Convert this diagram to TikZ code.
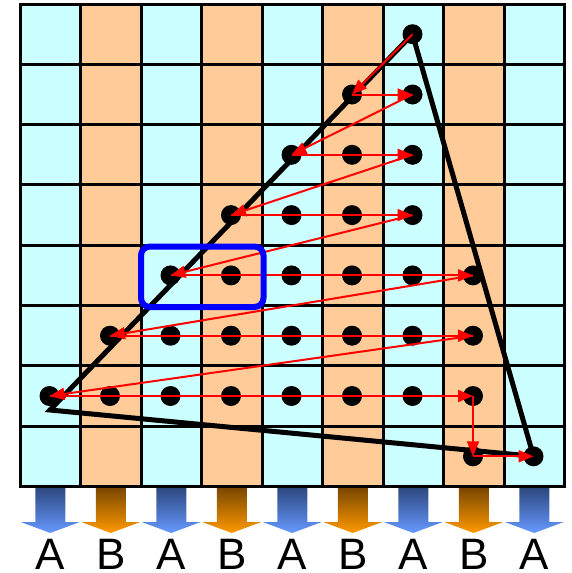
\documentclass[tikz,border=0pt]{standalone}
\usepackage{fontspec}
\setmainfont{Liberation Sans}
\usetikzlibrary{arrows.meta}
\definecolor{cellA}{HTML}{CCFFFF}
\definecolor{cellB}{HTML}{FFCC99}
\definecolor{blueTop}{RGB}{46,72,128}
\definecolor{blueBot}{RGB}{102,153,255}
\definecolor{orTop}{RGB}{122,72,0}
\definecolor{orBot}{RGB}{255,153,0}
\begin{document}
\begin{tikzpicture}[x=1pt,y=-1pt,
  dot/.style={circle,fill=black,inner sep=0pt,minimum size=20pt},
  scan/.style={red,line width=2pt,-{Triangle[length=15pt,width=12pt]}},
  gridline/.style={black,line width=3pt},
  tri/.style={black,line width=5pt,line join=miter},
  sel/.style={draw=blue,line width=6pt,rounded corners=9pt,inner sep=0pt},
  lbl/.style={font=\fontsize{44}{44}\selectfont,anchor=base,inner sep=0pt}]
\useasboundingbox (0,0) rectangle (571,573);
% cells
\foreach \c in {0,...,8}{
  \ifodd\c \def\cc{cellB}\else\def\cc{cellA}\fi
  \fill[\cc] (20+60.5*\c,4) rectangle ++(60.5,482.4);
}
\foreach \c in {0,...,9}
  \draw[gridline] (20+60.5*\c,4) -- (20+60.5*\c,486.4);
\foreach \r in {0,...,8}
  \draw[gridline,line cap=rect] (20,4+60.3*\r) -- (564.5,4+60.3*\r);
% bottom arrows and labels
\foreach \c in {0,...,8}{
  \pgfmathsetmacro\xc{50.25+60.5*\c}
  \ifodd\c
    \shade[top color=orTop,bottom color=orBot] (\xc-15,488) -- (\xc+15,488) -- (\xc+15,522) -- (\xc+29.5,522) -- (\xc,533) -- (\xc-29.5,522) -- (\xc-15,522) -- cycle;
    \node[lbl] (l\c) at (\xc,569) {B};
  \else
    \shade[top color=blueTop,bottom color=blueBot] (\xc-15,488) -- (\xc+15,488) -- (\xc+15,522) -- (\xc+29.5,522) -- (\xc,533) -- (\xc-29.5,522) -- (\xc-15,522) -- cycle;
    \node[lbl] (l\c) at (\xc,569) {A};
  \fi
}
% dots
\foreach \r/\c in {0/6,1/5,1/6,2/4,2/5,2/6,3/3,3/4,3/5,3/6,
  4/2,4/3,4/4,4/5,4/6,4/7,5/1,5/2,5/3,5/4,5/5,5/6,5/7,
  6/0,6/1,6/2,6/3,6/4,6/5,6/6,6/7,7/7,7/8}
  \node[dot] (d\r\c) at (49.5+60.5*\c,34.2+60.3*\r) {};
% triangle
\coordinate (lv) at (50,410);
\draw[tri] (d06.center) -- (lv) -- (d78.center) -- cycle;
% scan arrows
\foreach \a/\b in {06/15,15/16,16/24,24/26,26/33,33/36,36/42,42/47,47/51,51/57,57/60,60/67,67/77,77/78}
  \draw[scan] (d\a.center) -- (d\b.center);
% selection box
\node[sel,minimum width=122.5pt,minimum height=60.5pt] (selbox) at (202.25,276.75) {};
\end{tikzpicture}
\end{document}
